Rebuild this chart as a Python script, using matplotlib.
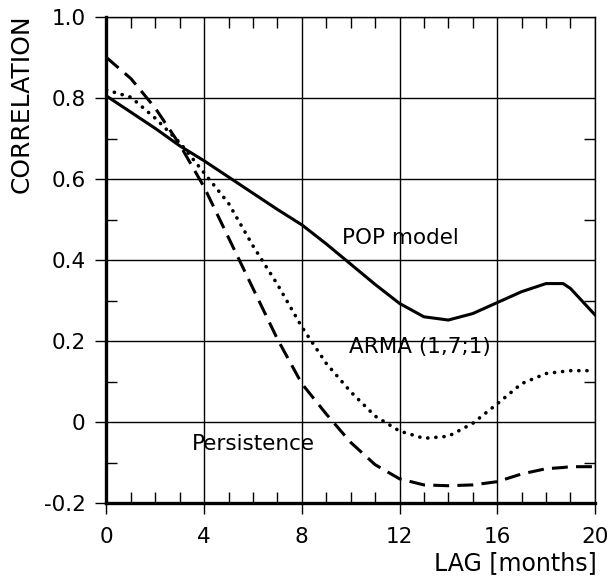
import matplotlib
matplotlib.use("Agg")
import matplotlib.pyplot as plt
from matplotlib.ticker import FixedLocator, MultipleLocator

plt.rcParams['font.family'] = 'DejaVu Sans'
plt.rcParams['axes.unicode_minus'] = False

# lag in months
lag = [0, 1, 2, 3, 4, 5, 6, 7, 8, 9, 10, 11, 12, 13, 14, 15, 16, 17, 18, 18.7, 19, 20]

# correlation curves
pop_model = [0.805, 0.765, 0.725, 0.682, 0.645, 0.605, 0.565, 0.525, 0.487, 0.44, 0.39,
             0.34, 0.293, 0.26, 0.252, 0.268, 0.295, 0.322, 0.342, 0.342, 0.33, 0.265]
arma = [0.82, 0.802, 0.75, 0.69, 0.615, 0.54, 0.435, 0.34, 0.235, 0.145, 0.075,
        0.015, -0.022, -0.04, -0.035, -0.003, 0.045, 0.095, 0.12, 0.125, 0.127, 0.127]
persistence = [0.90, 0.848, 0.775, 0.685, 0.58, 0.455, 0.33, 0.205, 0.095, 0.02, -0.05,
               -0.105, -0.14, -0.155, -0.157, -0.155, -0.147, -0.128, -0.115, -0.112, -0.11, -0.11]

xticks = [0, 4, 8, 12, 16, 20]
yticks = [-0.2, 0, 0.2, 0.4, 0.6, 0.8, 1.0]
ytick_labels = ["-0.2", "0", "0.2", "0.4", "0.6", "0.8", "1.0"]
yminor = [-0.1, 0.1, 0.3, 0.5, 0.7]

fig = plt.figure(figsize=(6.12, 5.77), dpi=100)
ax = fig.add_axes([0.174, 0.128, 0.798, 0.8425])

ax.plot(lag, pop_model, color='black', lw=2.2, solid_joinstyle='round')
ax.plot(lag, persistence, color='black', lw=2.2, linestyle=(0, (5.2, 2.7)))
ax.plot(lag, arma, color='black', lw=2.6, linestyle=(0, (0.05, 2.2)),
        dash_capstyle='round')

ax.set_xlim(0, 20)
ax.set_ylim(-0.2, 1.0)

ax.set_xticks(xticks)
ax.set_xticklabels([str(t) for t in xticks])
ax.set_yticks(yticks)
ax.set_yticklabels(ytick_labels)
ax.xaxis.set_minor_locator(MultipleLocator(1))
ax.yaxis.set_minor_locator(FixedLocator(yminor))

ax.grid(True, which='major', color='black', lw=1.0)
ax.tick_params(which='major', direction='out', length=8, width=1.0, labelsize=15.5, pad=7,
               top=False, right=False)
ax.tick_params(axis='x', which='major', pad=9)
ax.tick_params(which='minor', direction='in', length=8, width=1.0,
               top=True, right=True, bottom=True, left=True)

ax.spines['left'].set_linewidth(2.4)
ax.spines['bottom'].set_linewidth(2.4)
ax.spines['top'].set_linewidth(1.0)
ax.spines['right'].set_linewidth(1.0)

ax.text(9.65, 0.455, "POP model", fontsize=15.5, va='center', ha='left')
ax.text(9.95, 0.185, "ARMA (1,7;1)", fontsize=15.5, va='center', ha='left')
ax.text(3.5, -0.055, "Persistence", fontsize=15.5, va='center', ha='left')

fig.text(0.036, 0.975, "CORRELATION", rotation=90, fontsize=18, ha='center', va='top')
fig.text(0.975, 0.024, "LAG [months]", fontsize=17, ha='right', va='center')

fig.savefig("out.png", dpi=100)
